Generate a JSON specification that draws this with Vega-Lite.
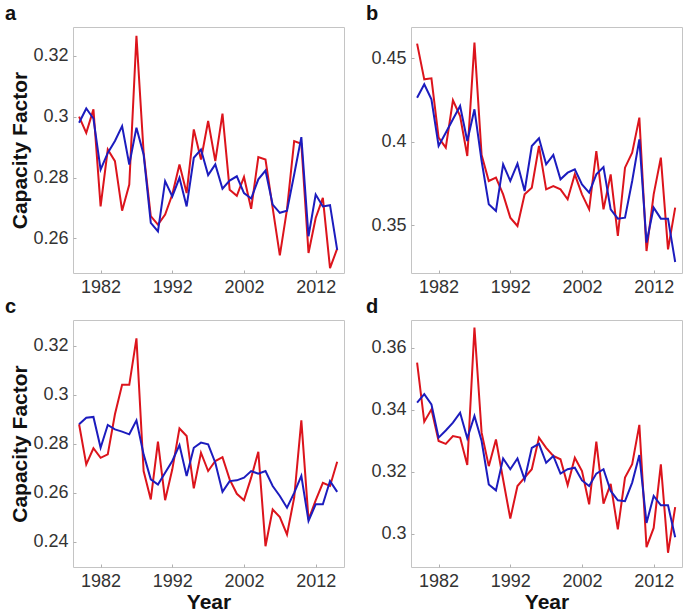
{
  "$schema": "https://vega.github.io/schema/vega-lite/v6.json",
  "background": "white",
  "padding": {"left": 4, "top": 3, "right": 2, "bottom": 2},
  "bounds": "flush",
  "spacing": {"row": 47, "column": 67},
  "columns": 2,
  "config": {
    "view": {"stroke": "#c4c4c4", "strokeWidth": 1},
    "axis": {
      "domain": false, "grid": false,
      "labelFont": "Liberation Sans", "labelFontSize": 18, "labelColor": "#333333",
      "tickColor": "#b0b0b0", "tickSize": -3, "tickWidth": 1,
      "titleFont": "Liberation Sans", "titleFontSize": 21, "titleFontWeight": "bold", "titleColor": "#111111"
    },
    "axisX": {"labelPadding": 8, "titlePadding": 1},
    "axisY": {"labelPadding": 8, "titlePadding": 2},
    "title": {"font": "Liberation Sans", "fontSize": 20, "fontWeight": "bold", "anchor": "start", "color": "#111111", "dx": -5, "offset": 3}
  },
  "datasets": {
    "a": [
      {"year":1979,"red":0.300,"blue":0.298},{"year":1980,"red":0.2947,"blue":0.3027},{"year":1981,"red":0.3024,"blue":0.2994},
      {"year":1982,"red":0.2705,"blue":0.2826},{"year":1983,"red":0.2892,"blue":0.2881},{"year":1984,"red":0.2854,"blue":0.292},
      {"year":1985,"red":0.2691,"blue":0.2969},{"year":1986,"red":0.2777,"blue":0.2843},{"year":1987,"red":0.3266,"blue":0.2964},
      {"year":1988,"red":0.2882,"blue":0.2876},{"year":1989,"red":0.2673,"blue":0.2651},{"year":1990,"red":0.2645,"blue":0.2623},
      {"year":1991,"red":0.2678,"blue":0.2788},{"year":1992,"red":0.2744,"blue":0.2738},{"year":1993,"red":0.2843,"blue":0.2799},
      {"year":1994,"red":0.2749,"blue":0.2705},{"year":1995,"red":0.2958,"blue":0.2865},{"year":1996,"red":0.2859,"blue":0.2892},
      {"year":1997,"red":0.2986,"blue":0.2808},{"year":1998,"red":0.2854,"blue":0.2843},{"year":1999,"red":0.301,"blue":0.2763},
      {"year":2000,"red":0.276,"blue":0.279},{"year":2001,"red":0.274,"blue":0.2804},{"year":2002,"red":0.2802,"blue":0.2749},
      {"year":2003,"red":0.2697,"blue":0.2731},{"year":2004,"red":0.2867,"blue":0.2794},{"year":2005,"red":0.2859,"blue":0.2823},
      {"year":2006,"red":0.270,"blue":0.2711},{"year":2007,"red":0.2544,"blue":0.2684},{"year":2008,"red":0.2695,"blue":0.2691},
      {"year":2009,"red":0.292,"blue":0.281},{"year":2010,"red":0.2911,"blue":0.2933},{"year":2011,"red":0.2552,"blue":0.2607},
      {"year":2012,"red":0.2667,"blue":0.2744},{"year":2013,"red":0.2733,"blue":0.2705},{"year":2014,"red":0.2502,"blue":0.2709},
      {"year":2015,"red":0.2566,"blue":0.2562}
    ],
    "b": [
      {"year":1979,"red":0.4588,"blue":0.4264},{"year":1980,"red":0.4374,"blue":0.4344},{"year":1981,"red":0.438,"blue":0.4254},
      {"year":1982,"red":0.4024,"blue":0.3974},{"year":1983,"red":0.3964,"blue":0.4054},{"year":1984,"red":0.4248,"blue":0.4134},
      {"year":1985,"red":0.4154,"blue":0.4214},{"year":1986,"red":0.3914,"blue":0.4004},{"year":1987,"red":0.4594,"blue":0.4194},
      {"year":1988,"red":0.392,"blue":0.3884},{"year":1989,"red":0.3764,"blue":0.3624},{"year":1990,"red":0.3784,"blue":0.3584},
      {"year":1991,"red":0.3684,"blue":0.3864},{"year":1992,"red":0.3544,"blue":0.3764},{"year":1993,"red":0.3494,"blue":0.3868},
      {"year":1994,"red":0.3684,"blue":0.3704},{"year":1995,"red":0.3724,"blue":0.3974},{"year":1996,"red":0.3974,"blue":0.402},
      {"year":1997,"red":0.3714,"blue":0.3864},{"year":1998,"red":0.3734,"blue":0.392},{"year":1999,"red":0.3714,"blue":0.3774},
      {"year":2000,"red":0.3654,"blue":0.3814},{"year":2001,"red":0.3804,"blue":0.3834},{"year":2002,"red":0.3684,"blue":0.3744},
      {"year":2003,"red":0.3594,"blue":0.3694},{"year":2004,"red":0.3944,"blue":0.3804},{"year":2005,"red":0.3594,"blue":0.3848},
      {"year":2006,"red":0.3804,"blue":0.3594},{"year":2007,"red":0.3434,"blue":0.3538},{"year":2008,"red":0.3844,"blue":0.3544},
      {"year":2009,"red":0.3934,"blue":0.3764},{"year":2010,"red":0.4144,"blue":0.4014},{"year":2011,"red":0.3344,"blue":0.3394},
      {"year":2012,"red":0.3684,"blue":0.3604},{"year":2013,"red":0.3904,"blue":0.3538},{"year":2014,"red":0.3354,"blue":0.3538},
      {"year":2015,"red":0.3604,"blue":0.3278}
    ],
    "c": [
      {"year":1979,"red":0.288,"blue":0.288},{"year":1980,"red":0.2716,"blue":0.2907},{"year":1981,"red":0.2782,"blue":0.291},
      {"year":1982,"red":0.2743,"blue":0.2784},{"year":1983,"red":0.2757,"blue":0.2877},{"year":1984,"red":0.2921,"blue":0.2859},
      {"year":1985,"red":0.3041,"blue":0.285},{"year":1986,"red":0.3041,"blue":0.2839},{"year":1987,"red":0.3231,"blue":0.2896},
      {"year":1988,"red":0.2689,"blue":0.2757},{"year":1989,"red":0.2573,"blue":0.2655},{"year":1990,"red":0.2809,"blue":0.2634},
      {"year":1991,"red":0.257,"blue":0.2682},{"year":1992,"red":0.2696,"blue":0.273},{"year":1993,"red":0.2863,"blue":0.2795},
      {"year":1994,"red":0.2832,"blue":0.2669},{"year":1995,"red":0.2618,"blue":0.2784},{"year":1996,"red":0.2764,"blue":0.2805},
      {"year":1997,"red":0.2689,"blue":0.2798},{"year":1998,"red":0.273,"blue":0.2723},{"year":1999,"red":0.2746,"blue":0.2604},
      {"year":2000,"red":0.2655,"blue":0.2648},{"year":2001,"red":0.2596,"blue":0.2651},{"year":2002,"red":0.257,"blue":0.2662},
      {"year":2003,"red":0.2662,"blue":0.2689},{"year":2004,"red":0.2768,"blue":0.2678},{"year":2005,"red":0.2382,"blue":0.2689},
      {"year":2006,"red":0.2532,"blue":0.2628},{"year":2007,"red":0.2501,"blue":0.2587},{"year":2008,"red":0.243,"blue":0.2539},
      {"year":2009,"red":0.258,"blue":0.26},{"year":2010,"red":0.2896,"blue":0.2669},{"year":2011,"red":0.2491,"blue":0.2485},
      {"year":2012,"red":0.2569,"blue":0.2553},{"year":2013,"red":0.2641,"blue":0.2553},{"year":2014,"red":0.2628,"blue":0.2648},
      {"year":2015,"red":0.2727,"blue":0.2604}
    ],
    "d": [
      {"year":1979,"red":0.3552,"blue":0.3423},{"year":1980,"red":0.3361,"blue":0.345},{"year":1981,"red":0.3401,"blue":0.3417},
      {"year":1982,"red":0.3299,"blue":0.331},{"year":1983,"red":0.329,"blue":0.3333},{"year":1984,"red":0.3315,"blue":0.3358},
      {"year":1985,"red":0.331,"blue":0.339},{"year":1986,"red":0.3222,"blue":0.3308},{"year":1987,"red":0.3665,"blue":0.338},
      {"year":1988,"red":0.3326,"blue":0.3299},{"year":1989,"red":0.3218,"blue":0.3159},{"year":1990,"red":0.3304,"blue":0.314},
      {"year":1991,"red":0.3175,"blue":0.3243},{"year":1992,"red":0.3049,"blue":0.3208},{"year":1993,"red":0.3154,"blue":0.3243},
      {"year":1994,"red":0.3181,"blue":0.3175},{"year":1995,"red":0.3208,"blue":0.3277},{"year":1996,"red":0.331,"blue":0.329},
      {"year":1997,"red":0.3277,"blue":0.3229},{"year":1998,"red":0.3251,"blue":0.3251},{"year":1999,"red":0.324,"blue":0.3194},
      {"year":2000,"red":0.3157,"blue":0.3208},{"year":2001,"red":0.3245,"blue":0.3213},{"year":2002,"red":0.3202,"blue":0.3172},
      {"year":2003,"red":0.3095,"blue":0.3154},{"year":2004,"red":0.3297,"blue":0.3194},{"year":2005,"red":0.3097,"blue":0.3208},
      {"year":2006,"red":0.3161,"blue":0.3138},{"year":2007,"red":0.3014,"blue":0.3108},{"year":2008,"red":0.3181,"blue":0.3105},
      {"year":2009,"red":0.3224,"blue":0.3165},{"year":2010,"red":0.3351,"blue":0.3254},{"year":2011,"red":0.2957,"blue":0.3035},
      {"year":2012,"red":0.3019,"blue":0.3122},{"year":2013,"red":0.3224,"blue":0.3092},{"year":2014,"red":0.2939,"blue":0.3092},
      {"year":2015,"red":0.3086,"blue":0.2989}
    ]
  },
  "concat": [
    {
      "width": 271, "height": 246,
      "title": {"text": "a"},
      "data": {"name": "a"},
      "encoding": {
        "x": {"field": "year", "type": "quantitative", "scale": {"domain": [1978.15, 2015.95], "nice": false, "zero": false},
              "axis": {"values": [1982, 1992, 2002, 2012], "format": "d", "title": null}}
      },
      "layer": [
        {"mark": {"type": "line", "color": "#dc141c", "strokeWidth": 2},
         "encoding": {"y": {"field": "red", "type": "quantitative", "scale": {"domain": [0.2486, 0.3295], "nice": false, "zero": false},
                            "axis": {"values": [0.26, 0.28, 0.3, 0.32], "format": ".2~f", "title": "Capacity Factor"}}}},
        {"mark": {"type": "line", "color": "#1c1cbe", "strokeWidth": 2},
         "encoding": {"y": {"field": "blue", "type": "quantitative",
                            "axis": {"values": [0.26, 0.28, 0.3, 0.32], "format": ".2~f", "title": "Capacity Factor"}}}}
      ]
    },
    {
      "width": 271, "height": 246,
      "title": {"text": "b"},
      "data": {"name": "b"},
      "encoding": {
        "x": {"field": "year", "type": "quantitative", "scale": {"domain": [1978.15, 2015.95], "nice": false, "zero": false},
              "axis": {"values": [1982, 1992, 2002, 2012], "format": "d", "title": null}}
      },
      "layer": [
        {"mark": {"type": "line", "color": "#dc141c", "strokeWidth": 2},
         "encoding": {"y": {"field": "red", "type": "quantitative", "scale": {"domain": [0.3212, 0.4688], "nice": false, "zero": false},
                            "axis": {"values": [0.35, 0.4, 0.45], "format": ".2~f", "title": null}}}},
        {"mark": {"type": "line", "color": "#1c1cbe", "strokeWidth": 2},
         "encoding": {"y": {"field": "blue", "type": "quantitative",
                            "axis": {"values": [0.35, 0.4, 0.45], "format": ".2~f", "title": null}}}}
      ]
    },
    {
      "width": 271, "height": 247,
      "title": {"text": "c"},
      "data": {"name": "c"},
      "encoding": {
        "x": {"field": "year", "type": "quantitative", "scale": {"domain": [1978.15, 2015.95], "nice": false, "zero": false},
              "axis": {"values": [1982, 1992, 2002, 2012], "format": "d", "title": "Year"}}
      },
      "layer": [
        {"mark": {"type": "line", "color": "#dc141c", "strokeWidth": 2},
         "encoding": {"y": {"field": "red", "type": "quantitative", "scale": {"domain": [0.2297, 0.3306], "nice": false, "zero": false},
                            "axis": {"values": [0.24, 0.26, 0.28, 0.3, 0.32], "format": ".2~f", "title": "Capacity Factor"}}}},
        {"mark": {"type": "line", "color": "#1c1cbe", "strokeWidth": 2},
         "encoding": {"y": {"field": "blue", "type": "quantitative",
                            "axis": {"values": [0.24, 0.26, 0.28, 0.3, 0.32], "format": ".2~f", "title": "Capacity Factor"}}}}
      ]
    },
    {
      "width": 271, "height": 247,
      "title": {"text": "d"},
      "data": {"name": "d"},
      "encoding": {
        "x": {"field": "year", "type": "quantitative", "scale": {"domain": [1978.15, 2015.95], "nice": false, "zero": false},
              "axis": {"values": [1982, 1992, 2002, 2012], "format": "d", "title": "Year"}}
      },
      "layer": [
        {"mark": {"type": "line", "color": "#dc141c", "strokeWidth": 2},
         "encoding": {"y": {"field": "red", "type": "quantitative", "scale": {"domain": [0.2893, 0.3689], "nice": false, "zero": false},
                            "axis": {"values": [0.3, 0.32, 0.34, 0.36], "format": ".2~f", "title": null}}}},
        {"mark": {"type": "line", "color": "#1c1cbe", "strokeWidth": 2},
         "encoding": {"y": {"field": "blue", "type": "quantitative",
                            "axis": {"values": [0.3, 0.32, 0.34, 0.36], "format": ".2~f", "title": null}}}}
      ]
    }
  ]
}
